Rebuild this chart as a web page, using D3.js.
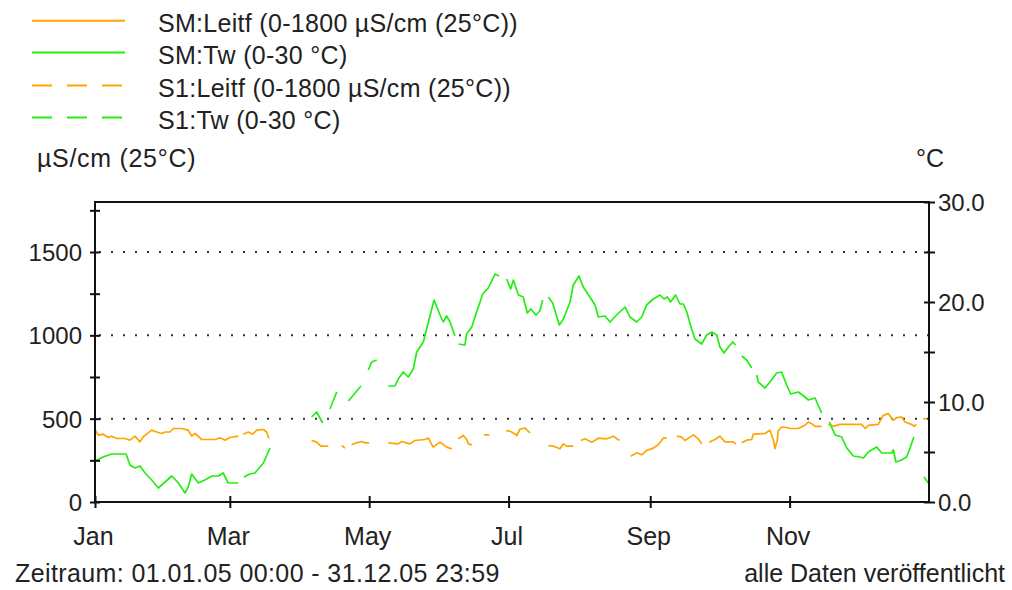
<!DOCTYPE html>
<html>
<head>
<meta charset="utf-8">
<script src="https://cdn.jsdelivr.net/npm/d3@7"></script>
<style>
  html, body { margin: 0; padding: 0; background: #fff; }
  svg { display: block; }
  text { font-family: "Liberation Sans", Arial, sans-serif; fill: #222; }
</style>
</head>
<body>
<svg id="chart" width="1012" height="590"></svg>
<script>
// ---------- DATA ----------
// day of year 2005 (0 = 1 Jan), value; null = no data (gap)
const smLeitf = [
  [0,435],[1.4,401],[3.6,407],[5.8,387],[7.3,395],[9.5,381],[13.1,381],[15.3,371],[17.5,395],[19.7,361],
  [21.1,391],[24.8,431],[27.0,420],[29.2,411],[30.6,420],[32.8,420],[34.3,441],[37.9,441],[40.8,431],[42.3,395],
  [43.8,411],[46.7,375],[52.5,375],[54.7,385],[56.9,371],[59.1,387],[62.7,395],[63.8,null],
  [64.9,407],[67.1,420],[69.0,407],[70.8,431],[73.7,435],[75.1,420],[76.1,381],[85,null],
  [94.8,369],[97.0,359],[98.8,335],[102.1,335],[105,null],
  [108.0,339],[109.4,323],[111,null],
  [112.3,343],[114.5,355],[116.7,363],[118.2,355],[120.0,355],[124,null],
  [128.4,355],[132.7,349],[134.2,363],[137.9,349],[140.0,369],[144.4,375],[145.9,383],[148.0,329],[151.0,359],
  [153.9,329],[156.1,319],[157.5,null],
  [159.0,379],[161.2,399],[162.7,375],[163.4,349],[164.9,343],[167,null],
  [170.2,403],[172.6,403],[176,null],
  [179.9,429],[181.9,423],[183.8,408],[184.6,399],[186.0,438],[188.2,443],[190.4,414],[194,null],
  [198.4,339],[200.6,335],[203.5,319],[205.0,349],[206.4,335],[209.3,335],[211,null],
  [212.6,369],[214.4,379],[217.4,359],[220.3,383],[223.9,379],[226.8,395],[229.5,369],[232,null],
  [234.4,275],[237.1,295],[239.3,283],[241.4,309],[244.3,323],[246.5,343],[248.7,383],[250.2,383],[252,null],
  [254.6,395],[256.8,389],[258.2,369],[261.9,403],[264.0,379],[265.5,349],[267,null],
  [268.8,359],[271.3,375],[273.5,395],[275.7,361],[279.3,361],[280.5,347],[282,null],
  [283.0,355],[285.2,371],[287.4,375],[288.1,407],[293.2,411],[295.4,431],[296.9,371],[297.6,321],[298.6,371],
  [299.0,426],[300.5,450],[302.7,447],[304.2,441],[307.8,441],[310.7,460],[312.2,480],[313.7,470],[315.1,454],
  [318.0,454],[319.5,null],
  [320.9,466],[323.1,454],[326.0,466],[335.5,466],[337.1,441],[338.5,460],[342.8,466],[345.0,520],[347.2,530],
  [349.4,490],[350.8,506],[353.0,510],[354.5,480],[357.2,466],[358.7,454],[359.4,466],[361,null],
  [362.5,500],[364.0,500]
];

const smTw = [
  [0,4.1],[3.6,4.5],[7.3,4.8],[13.6,4.8],[15.3,3.7],[17.5,3.4],[19.7,3.6],[21.9,2.9],[24.8,2.2],[27.7,1.4],
  [33.6,2.6],[36.5,1.9],[39.4,0.9],[40.8,1.5],[42.3,2.8],[45.2,1.9],[48.1,2.2],[51.1,2.6],[54.0,2.6],[56.1,2.9],
  [58.3,1.9],[62.7,1.9],[64,null],
  [65.2,2.5],[67.8,2.8],[70.0,2.9],[73.7,3.9],[76.6,5.4],[85,null],
  [94.8,8.5],[97.0,9.0],[98.2,8.5],[99.6,7.9],[101,null],
  [102.8,9.3],[105.8,11.0],[108,null],
  [110.9,10.1],[116.4,11.6],[118,null],
  [119.6,13.2],[121.1,14.0],[123.3,14.2],[126,null],
  [128.4,11.6],[131.3,11.6],[132.7,12.3],[134.9,13.0],[137.1,12.5],[139.3,13.3],[140.8,15.0],[143.7,16.0],
  [145.9,18.0],[148.4,20.2],[151.0,18.7],[152.4,18.0],[153.9,18.6],[155.4,18.0],[157.5,16.6],[158.2,null],
  [159.0,15.8],[161.9,15.7],[162.6,16.8],[164.9,17.5],[167.0,19.0],[169.7,20.8],[172.1,21.4],[175.1,22.8],
  [176.8,22.6],[178.5,null],
  [180.2,22.3],[181.9,21.3],[183.1,22.2],[185.3,20.7],[187.4,20.5],[189.2,18.9],[190.7,19.3],[193.0,18.7],
  [194.7,19.1],[195.9,20.2],[197,null],
  [198.4,20.5],[200.3,19.9],[203.2,17.7],[205.0,18.3],[207.9,20.0],[209.3,21.7],[211.8,22.6],[213.7,21.5],
  [216.6,20.5],[218.8,19.7],[220.3,18.5],[223.2,18.6],[225.4,18.0],[228.3,18.7],[232.0,19.5],[234.1,18.5],
  [237.1,18.0],[239.3,18.5],[241.4,19.7],[244.3,20.3],[247.3,20.7],[249.0,20.3],[250.5,20.5],[251.9,20.0],
  [254.1,20.7],[256.0,19.8],[257.5,19.8],[259.0,19.0],[261.1,17.3],[262.6,16.3],[265.5,15.8],[267.7,16.7],
  [269.9,17.0],[272.1,16.7],[273.5,15.5],[275.3,14.9],[277.2,15.5],[279.1,16.0],[280.4,15.7],[282,null],
  [283.0,14.6],[285.2,14.2],[287.4,13.4],[288.5,null],
  [289.6,12.7],[290.3,12.0],[293.2,11.4],[295.4,12.0],[298.3,12.9],[300.5,13.0],[302.7,11.7],[304.5,10.8],
  [307.8,11.0],[310.7,10.5],[312.2,10.2],[315.1,10.4],[316.1,9.9],[318.0,8.9],[320,null],
  [321.4,8.0],[323.9,6.7],[326.8,6.5],[329.0,5.4],[331.9,4.6],[334.8,4.5],[336.3,4.4],[338.4,5.0],[342.1,5.5],
  [344.3,4.9],[348.7,4.9],[349.4,5.2],[350.5,4.0],[353.0,4.2],[355.2,4.5],[356.7,5.4],[358.4,6.5],[360,null],
  [362.8,2.5],[364.7,1.9]
];

const s1Leitf = [];   // no data in period
const s1Tw = [];      // no data in period

const leftTicks = [0, 250, 500, 750, 1000, 1250, 1500, 1750];
const leftLabels = [0, 500, 1000, 1500];
const rightTicks = [0, 5, 10, 15, 20, 25, 30];
const rightLabels = [0, 10, 20, 30];
const gridValues = [500, 1000, 1500];
const monthTicks = [0, 2, 4, 6, 8, 10];       // month indexes 2005
const monthNames = ["Jan","Feb","Mar","Apr","May","Jun","Jul","Aug","Sep","Oct","Nov","Dec"];

const legendLabels = ["SM:Leitf (0-1800 µS/cm (25°C))", "SM:Tw (0-30 °C)",
                      "S1:Leitf (0-1800 µS/cm (25°C))", "S1:Tw (0-30 °C)"];
const legendColors = ["#ffa500", "#22ee11", "#ffa500", "#22ee11"];
const legendDashed = [false, false, true, true];

const leftTitle = "µS/cm (25°C)";
const rightTitle = "°C";
const footLeft = "Zeitraum: 01.01.05 00:00 - 31.12.05 23:59";
const footRight = "alle Daten veröffentlicht";

// ---------- CHART ----------
const svg = d3.select("#chart");
const P = {left: 95, right: 929, top: 202, bottom: 502};
const FS = 24;
const DASH = "20,15";

const day0 = Date.UTC(2005, 0, 1);
const toDate = d => new Date(day0 + d * 864e5);

const x = d3.scaleUtc().domain([new Date(day0), new Date(Date.UTC(2006, 0, 1))]).range([P.left, P.right]);
const yL = d3.scaleLinear().domain([0, 1800]).range([P.bottom, P.top]);
const yR = d3.scaleLinear().domain([0, 30]).range([P.bottom, P.top]);

// grid (dotted)
svg.append("g").selectAll("line").data(gridValues).join("line")
  .attr("x1", P.left + 4).attr("x2", P.right)
  .attr("y1", d => yL(d)).attr("y2", d => yL(d))
  .attr("stroke", "#333").attr("stroke-width", 2)
  .attr("stroke-dasharray", "2,10");

// data lines
function drawSeries(data, yScale, color, dashed) {
  if (!data.length) return;
  const line = d3.line()
    .defined(d => d[1] !== null)
    .x(d => x(toDate(d[0])))
    .y(d => yScale(d[1]));
  svg.append("path").datum(data)
    .attr("d", line)
    .attr("fill", "none")
    .attr("stroke", color)
    .attr("stroke-width", 1.7)
    .attr("stroke-dasharray", dashed ? DASH : null)
    .attr("stroke-linejoin", "round");
}
drawSeries(smLeitf, yL, legendColors[0], legendDashed[0]);
drawSeries(smTw, yR, legendColors[1], legendDashed[1]);
drawSeries(s1Leitf, yL, legendColors[2], legendDashed[2]);
drawSeries(s1Tw, yR, legendColors[3], legendDashed[3]);

// frame
svg.append("rect")
  .attr("x", P.left).attr("y", P.top)
  .attr("width", P.right - P.left).attr("height", P.bottom - P.top)
  .attr("fill", "none").attr("stroke", "#111").attr("stroke-width", 2);

// left axis
const gL = svg.append("g").attr("transform", `translate(${P.left},0)`)
  .call(d3.axisLeft(yL).tickValues(leftTicks).tickSize(5).tickPadding(8)
    .tickFormat(d => leftLabels.includes(d) ? String(d) : ""));
gL.select(".domain").remove();
gL.selectAll(".tick line").attr("x1", -5).attr("x2", 5).attr("stroke", "#111").attr("stroke-width", 2);
gL.selectAll(".tick text").attr("font-size", FS).attr("font-family", null).attr("fill", "#222").attr("dy", "0.36em");

// right axis
const gR = svg.append("g").attr("transform", `translate(${P.right},0)`)
  .call(d3.axisRight(yR).tickValues(rightTicks).tickSize(5).tickPadding(4)
    .tickFormat(d => rightLabels.includes(d) ? d3.format(".1f")(d) : ""));
gR.select(".domain").remove();
gR.selectAll(".tick line").attr("x1", -5).attr("x2", 6).attr("stroke", "#111").attr("stroke-width", 2);
gR.selectAll(".tick text").attr("font-size", FS).attr("font-family", null).attr("fill", "#222").attr("dy", "0.36em");

// bottom axis
const monthDates = monthTicks.map(m => new Date(Date.UTC(2005, m, 1)));
const gB = svg.append("g").attr("transform", `translate(0,${P.bottom})`)
  .call(d3.axisBottom(x).tickValues(monthDates).tickSize(5)
    .tickFormat(d => monthNames[d.getUTCMonth()]));
gB.select(".domain").remove();
gB.selectAll(".tick line").attr("y1", -6).attr("y2", 6).attr("stroke", "#111").attr("stroke-width", 2);
gB.selectAll(".tick text").attr("font-size", FS + 1).attr("font-family", null).attr("fill", "#222")
  .attr("y", 43).attr("dy", 0).attr("dx", -2);

// axis titles
svg.append("text").attr("x", 37).attr("y", 167).attr("font-size", 25).attr("letter-spacing", 0.7).text(leftTitle);
svg.append("text").attr("x", 916).attr("y", 167).attr("font-size", 25).text(rightTitle);

// legend
const lg = svg.append("g");
const rowY = [20.7, 52.5, 85.5, 117.5];
legendLabels.forEach((lab, i) => {
  lg.append("line").attr("x1", 32).attr("x2", 125)
    .attr("y1", rowY[i]).attr("y2", rowY[i])
    .attr("stroke", legendColors[i]).attr("stroke-width", 2)
    .attr("stroke-dasharray", legendDashed[i] ? DASH : null);
  lg.append("text").attr("x", 158).attr("y", rowY[i] + 11).attr("font-size", 25).attr("letter-spacing", 0.3).text(lab);
});

// footer
svg.append("text").attr("x", 15).attr("y", 582).attr("font-size", 25).attr("letter-spacing", 0.4).text(footLeft);
svg.append("text").attr("x", 1005).attr("y", 582).attr("font-size", 25).attr("text-anchor", "end").text(footRight);
</script>
</body>
</html>
